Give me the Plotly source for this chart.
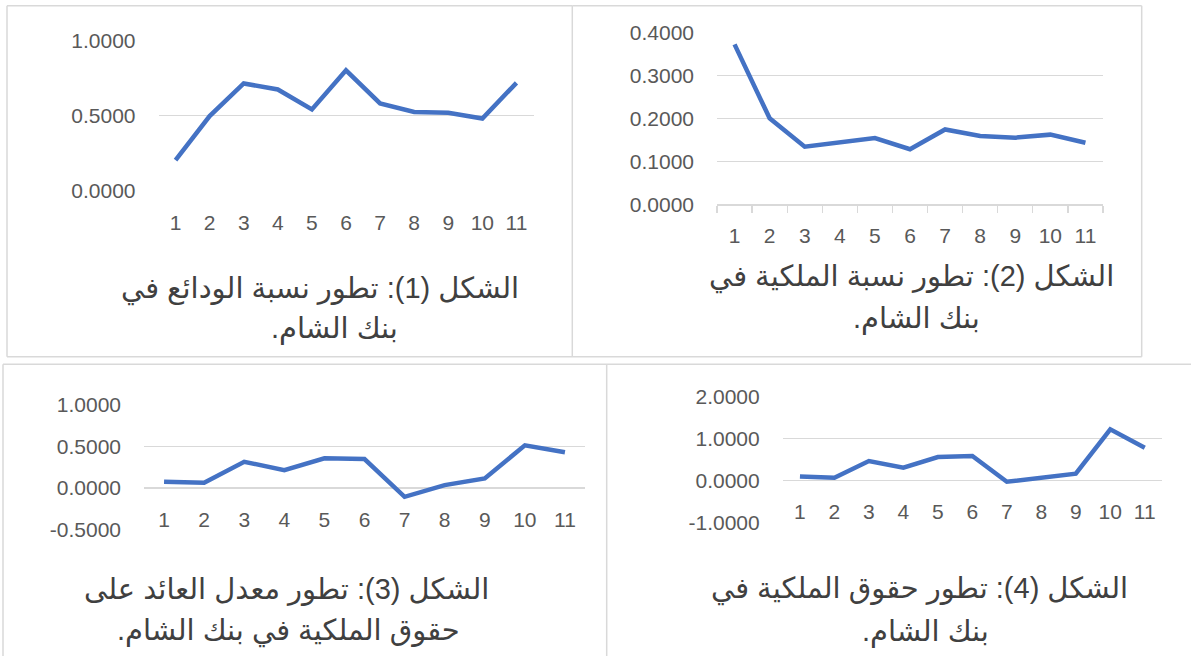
import plotly.graph_objects as go

W, H = 1191, 656

categories = ["1", "2", "3", "4", "5", "6", "7", "8", "9", "10", "11"]

deposits_ratio = [0.204, 0.496, 0.713, 0.673, 0.540, 0.800, 0.580, 0.524, 0.518, 0.480, 0.717]
ownership_ratio = [0.372, 0.200, 0.134, 0.143, 0.154, 0.128, 0.174, 0.159, 0.155, 0.162, 0.143]
roe = [0.075, 0.063, 0.314, 0.215, 0.355, 0.347, -0.104, 0.036, 0.116, 0.510, 0.427]
equity = [0.096, 0.064, 0.463, 0.304, 0.560, 0.584, -0.032, 0.060, 0.160, 1.220, 0.780]

yticks1 = [0.0, 0.5, 1.0]
yticks2 = [0.0, 0.1, 0.2, 0.3, 0.4]
yticks3 = [-0.5, 0.0, 0.5, 1.0]
yticks4 = [-1.0, 0.0, 1.0, 2.0]

captions = [
    ["الشكل (1): تطور نسبة الودائع في", "بنك الشام."],
    ["الشكل (2): تطور نسبة الملكية في", "بنك الشام."],
    ["الشكل (3): تطور معدل العائد على", "حقوق الملكية في بنك الشام."],
    ["الشكل (4): تطور حقوق الملكية في", "بنك الشام."],
]

LINE = "#4472C4"
GRID = "#d9d9d9"
TICK = "#595959"
CAP = "#404040"
TFONT = dict(family="Arial, Liberation Sans, sans-serif", size=21, color=TICK)


def px(x):
    return x / W


def py(y):
    return 1 - y / H


# panel geometry in pixels: x domain, y top, y bottom
panels = [
    dict(x=(158.5, 533.5), y=(40.3, 190.7), data=deposits_ratio, ticks=yticks1, zero=None, boundary=False),
    dict(x=(717, 1103), y=(32.3, 204.3), data=ownership_ratio, ticks=yticks2, zero=None, boundary=True),
    dict(x=(144, 585), y=(404.3, 530), data=roe, ticks=yticks3, zero=488.0, boundary=False),
    dict(x=(782.7, 1162), y=(396.7, 522.3), data=equity, ticks=yticks4, zero=480.0, boundary=False),
]

fig = go.Figure()
layout = dict()
for i, p in enumerate(panels, start=1):
    xa = "xaxis" if i == 1 else f"xaxis{i}"
    ya = "yaxis" if i == 1 else f"yaxis{i}"
    xr = "x" if i == 1 else f"x{i}"
    yr = "y" if i == 1 else f"y{i}"
    fig.add_trace(go.Scatter(x=categories, y=p["data"], mode="lines",
                             line=dict(color=LINE, width=4.5),
                             xaxis=xr, yaxis=yr, showlegend=False,
                             hoverinfo="skip"))
    xdict = dict(domain=[px(p["x"][0]), px(p["x"][1])], type="category",
                 range=[-0.5, len(categories) - 0.5], automargin=False,
                 showgrid=False, zeroline=False, tickfont=TFONT,
                 fixedrange=True)
    if p["boundary"]:
        xdict.update(anchor=yr, showline=True, linecolor=GRID, linewidth=1.3,
                     ticks="outside", tickson="boundaries", ticklen=7,
                     tickcolor=GRID, tickwidth=1.3, ticklabelstandoff=12)
    elif p["zero"] is not None:
        xdict.update(anchor="free", position=py(p["zero"]), showline=False,
                     ticks="", ticklabelstandoff=17)
    else:
        xdict.update(anchor=yr, showline=False, ticks="", ticklabelstandoff=17)
    layout[xa] = xdict
    layout[ya] = dict(domain=[py(p["y"][1]), py(p["y"][0])], anchor=xr,
                      range=[p["ticks"][0], p["ticks"][-1]], automargin=False,
                      tickvals=p["ticks"], ticktext=[f"{v:.4f}" for v in p["ticks"]],
                      showgrid=True, gridcolor=GRID, gridwidth=1.3,
                      zeroline=False, showline=False, ticks="",
                      ticklabelstandoff=22, tickfont=TFONT, fixedrange=True)

# panel borders
borders = [
    (7, 5.7, 572.3, 5.7), (7, 5.7, 7, 356.7), (7, 356.7, 1141.7, 356.7),
    (572.3, 5.7, 572.3, 356.7), (572.3, 5.7, 1141.7, 5.7), (1141.7, 5.7, 1141.7, 356.7),
    (3, 364.3, 1191, 364.3), (3, 364.3, 3, 656), (606.7, 364.3, 606.7, 656),
]
shapes = [dict(type="line", xref="paper", yref="paper", x0=px(a), y0=py(b), x1=px(c), y1=py(d),
               line=dict(color=GRID, width=1.5)) for a, b, c, d in borders]

# caption positions (pixel centers)
cap_pos = [
    [(320, 289), (334, 328)],
    [(911, 277), (916, 318)],
    [(286, 589), (288, 631)],
    [(920, 589), (925, 631)],
]
annotations = []
for lines, poss in zip(captions, cap_pos):
    for txt, (cx, cy) in zip(lines, poss):
        annotations.append(dict(text="\u200f" + txt + "\u200f", xref="paper", yref="paper",
                                x=px(cx), y=py(cy), xanchor="center", yanchor="middle",
                                showarrow=False,
                                font=dict(family="Arial, Liberation Sans, DejaVu Sans, sans-serif",
                                          size=29, color=CAP)))

fig.update_layout(width=W, height=H, autosize=False, margin=dict(l=0, r=0, t=0, b=0, pad=0),
                  paper_bgcolor="white", plot_bgcolor="white",
                  shapes=shapes, annotations=annotations, **layout)

fig.write_html("out.html", config={"displayModeBar": False, "staticPlot": True},
               post_script="document.body.style.margin='0';document.body.style.overflow='hidden';")
